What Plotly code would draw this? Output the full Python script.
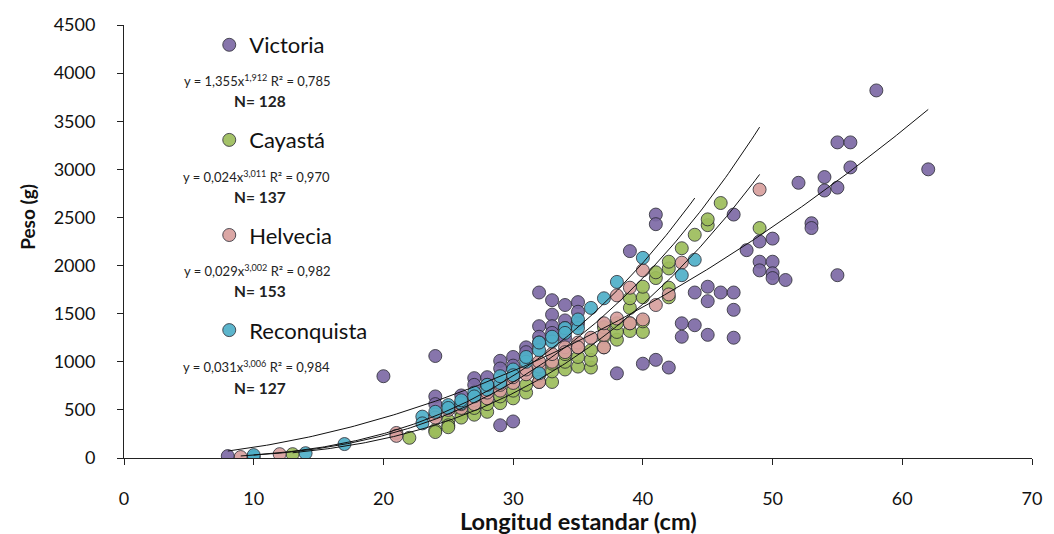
import numpy as np
import plotly.graph_objects as go

# ---------------- data ----------------
series_names = ["Victoria", "Cayastá", "Helvecia", "Reconquista"]

victoria_x = [8, 20, 24, 24, 24, 26, 27, 27, 28, 28, 29, 29, 29, 30, 30, 30, 31, 31,
              32, 32, 32, 32, 33, 33, 33, 33, 34, 34, 34, 34, 35, 35, 35,
              38, 39, 40, 41, 41, 41, 42, 43, 43, 44, 44, 45, 45, 45, 46,
              47, 47, 47, 47, 48, 49, 49, 49, 50, 50, 50, 50, 51, 52, 53, 53,
              54, 54, 55, 55, 55, 56, 56, 58, 62]
victoria_y = [20, 850, 1060, 640, 560, 650, 830, 760, 840, 760, 1010, 930, 340, 1050, 960, 380, 1150, 1100,
              1720, 1370, 1260, 1200, 1640, 1490, 1370, 1300, 1590, 1430, 1350, 1250, 1620, 1520, 1400,
              880, 2150, 980, 2530, 2430, 1020, 940, 1400, 1260, 1380, 1720, 1780, 1630, 1280, 1720,
              2530, 1720, 1540, 1250, 2160, 2250, 2040, 1950, 2280, 2040, 1920, 1870, 1850, 2860, 2440, 2390,
              2920, 2780, 3280, 2810, 1900, 3280, 3020, 3820, 3000]

cayasta_x = [13, 22, 24, 24, 25, 25, 25, 26, 26, 27, 27, 28, 28, 29, 29, 30, 30, 31, 31,
             32, 32, 33, 33, 33, 34, 34, 34, 35, 35, 35, 36, 36, 36, 37, 37, 37,
             38, 38, 38, 39, 39, 39, 39, 40, 40, 40, 40, 41, 41, 42, 42, 42, 42,
             43, 44, 45, 45, 46, 49]
cayasta_y = [40, 210, 290, 270, 390, 340, 320, 470, 420, 450, 520, 480, 560, 570, 640, 620, 700, 680, 760,
             790, 860, 790, 900, 980, 920, 1000, 1080, 950, 1050, 1150, 940, 1020, 1120, 1150, 1260, 1360,
             1230, 1310, 1400, 1320, 1400, 1560, 1660, 1310, 1420, 1670, 1780, 1870, 1930, 1670, 1770, 1970, 2040,
             2180, 2320, 2420, 2480, 2650, 2390]

helvecia_x = [9, 12, 21, 21, 24, 24, 25, 26, 26, 27, 27, 28, 28, 29, 29, 30, 30, 31, 31,
              32, 32, 32, 33, 33, 34, 34, 35, 35, 36, 37, 37, 37, 38, 38, 39, 39,
              40, 40, 41, 42, 43, 49]
helvecia_y = [10, 40, 260, 230, 450, 420, 500, 520, 560, 600, 560, 620, 680, 700, 760, 780, 840, 870, 920,
              790, 950, 1000, 1000, 1080, 1150, 1100, 1200, 1150, 1250, 1150, 1280, 1400, 1450, 1690, 1770, 1400,
              1950, 1440, 1590, 1700, 2030, 2790]

reconquista_x = [10, 10, 14, 17, 23, 23, 24, 25, 25, 26, 26, 27, 27, 28, 28, 29, 29, 30, 30,
                 31, 31, 32, 32, 32, 33, 33, 34, 34, 35, 35, 36, 37, 38, 40, 43, 44]
reconquista_y = [10, 30, 50, 145, 430, 360, 480, 550, 520, 570, 600, 680, 640, 710, 760, 780, 850, 920, 860,
                 1000, 1050, 1120, 880, 1200, 1210, 1260, 1350, 1300, 1350, 1440, 1560, 1660, 1830, 2080, 1900, 2060]

# power trend lines y = a * x^b  (from the chart's equation labels)
trend_a = [1.355, 0.024, 0.029, 0.031]
trend_b = [1.912, 3.011, 3.002, 3.006]
r2_labels = ["0,785", "0,970", "0,982", "0,984"]
a_labels = ["1,355", "0,024", "0,029", "0,031"]
b_labels = ["1,912", "3,011", "3,002", "3,006"]
n_labels = ["128", "137", "153", "127"]

x_ticks = [0, 10, 20, 30, 40, 50, 60, 70]
y_ticks = [0, 500, 1000, 1500, 2000, 2500, 3000, 3500, 4000, 4500]

# ---------------- style ----------------
fill_colors = ["#7D6AA5", "#9DBD5C", "#D9A09E", "#4FAFC8"]
FONT = "Lato"

xs = [victoria_x, cayasta_x, helvecia_x, reconquista_x]
ys = [victoria_y, cayasta_y, helvecia_y, reconquista_y]

fig = go.Figure()

for i, name in enumerate(series_names):
    fig.add_trace(go.Scatter(
        x=xs[i], y=ys[i], mode="markers", name=name,
        legendgroup=name,
        marker=dict(size=13, color=fill_colors[i], opacity=0.92,
                    line=dict(color="rgba(35,35,45,0.85)", width=1)),
    ))

for i, name in enumerate(series_names):
    xx = np.linspace(min(xs[i]), max(xs[i]), 200)
    yy = trend_a[i] * xx ** trend_b[i]
    fig.add_trace(go.Scatter(x=xx, y=yy, mode="lines", showlegend=False,
                             line=dict(color="#111111", width=1), hoverinfo="skip"))

L, R, T, B = 124, 14, 25, 76
W, H = 1054, 534
pw, ph = W - L - R, H - T - B


def px(X):
    return (X - L) / pw


def py(Y):
    return (H - B - Y) / ph


annotations = []
eq_y = [80, 176, 270, 366]
n_y = [101, 197, 291, 388]
for i in range(4):
    annotations.append(dict(
        x=px(258), y=py(eq_y[i]), xref="paper", yref="paper", showarrow=False,
        text=f"y = {a_labels[i]}x<sup>{b_labels[i]}</sup> R² = {r2_labels[i]}",
        font=dict(family=FONT, size=13, color="#222222"), xanchor="center", yanchor="middle"))
    annotations.append(dict(
        x=px(261), y=py(n_y[i]), xref="paper", yref="paper", showarrow=False,
        text=f"<b>N= {n_labels[i]}</b>",
        font=dict(family=FONT, size=15.5, color="#222222"), xanchor="center", yanchor="middle"))

annotations.append(dict(
    x=px(583), y=py(521), xref="paper", yref="paper", showarrow=False,
    text="<b>Longitud estandar (cm)</b>", font=dict(family=FONT, size=23.5, color="#111111"),
    xanchor="center", yanchor="middle"))
annotations.append(dict(
    x=px(27), y=py(217), xref="paper", yref="paper", showarrow=False, textangle=-90,
    text="<b>Peso (g)</b>", font=dict(family=FONT, size=19, color="#111111"),
    xanchor="center", yanchor="middle"))

fig.update_layout(
    width=W, height=H,
    margin=dict(l=L, r=R, t=T, b=B),
    paper_bgcolor="white", plot_bgcolor="white",
    font=dict(family=FONT, size=18, color="#111111"),
    showlegend=True,
    legend=dict(x=px(210), y=py(24), xanchor="left", yanchor="top",
                font=dict(family=FONT, size=22, color="#111111"),
                tracegroupgap=63.5, itemwidth=30, bgcolor="rgba(0,0,0,0)",
                maxheight=520),
    annotations=annotations,
    xaxis=dict(range=[0, 70], tickvals=x_ticks, showgrid=False, zeroline=False,
               showline=True, linecolor="#222222", linewidth=1,
               ticks="outside", ticklen=6, tickcolor="#222222",
               ticklabelstandoff=18, tickfont=dict(size=18)),
    yaxis=dict(range=[0, 4500], tickvals=y_ticks, showgrid=False, zeroline=False,
               showline=True, linecolor="#222222", linewidth=1,
               ticks="outside", ticklen=6, tickcolor="#222222",
               ticklabelstandoff=18, tickfont=dict(size=18)),
)

fig.write_html("out.html")
